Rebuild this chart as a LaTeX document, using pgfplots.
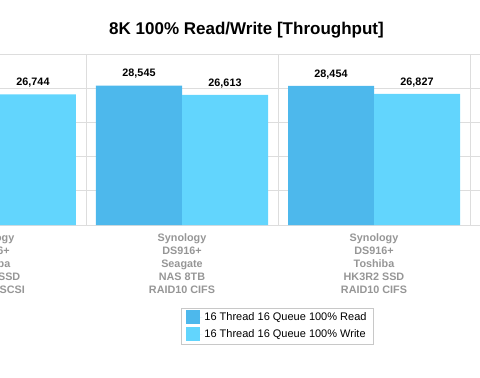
\documentclass[border=0pt]{standalone}
\usepackage{fontspec}
\setmainfont{Liberation Sans}
\usepackage{pgfplots}
\pgfplotsset{compat=1.18}
\definecolor{readc}{RGB}{77,184,236}
\definecolor{writec}{RGB}{98,213,253}
\definecolor{gridc}{RGB}{221,221,221}
\definecolor{labc}{RGB}{150,150,150}
\definecolor{legc}{RGB}{200,200,200}
\begin{document}
\begin{tikzpicture}[x=1pt,y=1pt]
\useasboundingbox (0,0) rectangle (480,378);
\clip (0,0) rectangle (480,378);
\node[font=\bfseries\fontsize{17}{20}\selectfont] at (246.5,347.5) {8K 100\% Read/Write [Throughput]};
\begin{axis}[
  at={(-106pt,153pt)}, anchor=south west,
  scale only axis, width=595.2pt, height=171pt,
  xmin=-0.5, xmax=2.6, ymin=0, ymax=35000,
  ybar, bar width=86pt,
  axis line style={draw=none},
  ytick={0,7000,...,35000}, yticklabel={},
  ymajorgrids, grid style={gridc, line width=0.9pt},
  xtick={0,1,2},
  xticklabels={{Synology\\DS916+\\Toshiba\\HK3R2 SSD\\RAID10 iSCSI},{Synology\\DS916+\\Seagate\\NAS 8TB\\RAID10 CIFS},{Synology\\DS916+\\Toshiba\\HK3R2 SSD\\RAID10 CIFS}},
  major tick length=0pt,
  extra x ticks={0.5,1.5,2.5}, extra x tick labels={}, extra x tick style={grid=major},
  xticklabel style={font=\bfseries\fontsize{10.8}{13}\selectfont, text=labc, align=center, inner sep=0pt, yshift=-8pt},
  nodes near coords={\pgfmathprintnumber[assume math mode=true,fixed,1000 sep={,}]{\pgfplotspointmeta}},
  nodes near coords style={font=\bfseries\fontsize{10.8}{12}\selectfont, text=black, yshift=3.5pt},
  legend style={at={(0.6443,-0.5906)}, anchor=center, draw=legc, font=\fontsize{11}{13}\selectfont, inner xsep=5pt, inner ysep=2.5pt, row sep=3pt},
  legend cell align=left,
  legend image code/.code={\fill[#1] (0pt,-7pt) rectangle (14pt,7pt); \path (0pt,0pt) -- (16pt,0pt);},
]
\addplot[fill=readc, draw=none, bar shift=-43pt] coordinates {(0,28490) (1,28545) (2,28454)};
\addplot[fill=writec, draw=none, bar shift=43pt] coordinates {(0,26744) (1,26613) (2,26827)};
\legend{16 Thread 16 Queue 100\% Read, 16 Thread 16 Queue 100\% Write}
\end{axis}
\end{tikzpicture}
\end{document}
